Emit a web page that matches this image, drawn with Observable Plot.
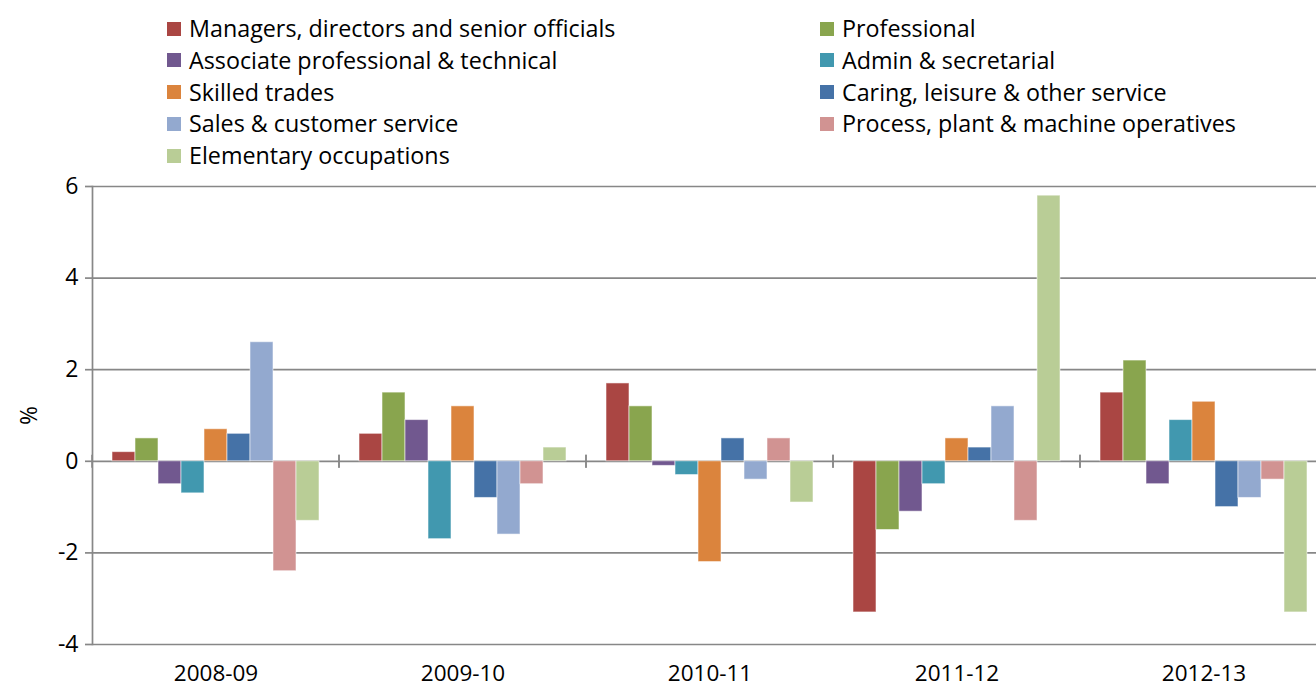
<!DOCTYPE html>
<html>
<head>
<meta charset="utf-8">
<script src="https://cdn.jsdelivr.net/npm/d3@7"></script>
<script src="https://cdn.jsdelivr.net/npm/@observablehq/plot@0.6"></script>
<style>
  html, body { margin: 0; padding: 0; background: #fff; overflow: hidden; }
  body { width: 1316px; height: 689px; font-family: "Open Sans", "Liberation Sans", sans-serif; }
  #legend { position: relative; height: 170px; width: 1316px; }
  .item { position: absolute; display: flex; align-items: center; font-size: 23.3px; color: #000; white-space: nowrap; line-height: 1; }
  .sw { width: 14px; height: 14px; margin-right: 8px; flex: none; }
  #chart svg { display: block; max-width: none !important; }
</style>
</head>
<body>
<div id="legend"></div>
<div id="chart"></div>
<script>
const years = ["2008-09", "2009-10", "2010-11", "2011-12", "2012-13"];
const seriesNames = [
  "Managers, directors and senior officials",
  "Professional",
  "Associate professional & technical",
  "Admin & secretarial",
  "Skilled trades",
  "Caring, leisure & other service",
  "Sales & customer service",
  "Process, plant & machine operatives",
  "Elementary occupations"
];
const seriesColors = ["#AA4643", "#89A54E", "#71588F", "#4198AF", "#DB843D", "#4572A7", "#93A9CF", "#D19392", "#B9CD96"];

const managers     = [0.2, 0.6, 1.7, -3.3, 1.5];
const professional = [0.5, 1.5, 1.2, -1.5, 2.2];
const associate    = [-0.5, 0.9, -0.1, -1.1, -0.5];
const admin        = [-0.7, -1.7, -0.3, -0.5, 0.9];
const skilled      = [0.7, 1.2, -2.2, 0.5, 1.3];
const caring       = [0.6, -0.8, 0.5, 0.3, -1.0];
const sales        = [2.6, -1.6, -0.4, 1.2, -0.8];
const process      = [-2.4, -0.5, 0.5, -1.3, -0.4];
const elementary   = [-1.3, 0.3, -0.9, 5.8, -3.3];
const yTicks = [-4, -2, 0, 2, 4, 6];

const seriesValues = [managers, professional, associate, admin, skilled, caring, sales, process, elementary];
const data = [];
years.forEach((yr, i) => seriesNames.forEach((s, j) => data.push({year: yr, series: s, value: seriesValues[j][i]})));

// legend (two columns, row-major)
const legend = document.getElementById("legend");
seriesNames.forEach((s, j) => {
  const col = j % 2, row = Math.floor(j / 2);
  const el = document.createElement("div");
  el.className = "item";
  el.style.left = (col === 0 ? 167 : 820) + "px";
  el.style.top = (28 + row * 31.8 - 11) + "px";
  el.innerHTML = `<span class="sw" style="background:${seriesColors[j]}"></span><span>${s}</span>`;
  legend.appendChild(el);
});

const gridColor = "#878787";

// small crossing ticks at category boundaries on the zero line
const boundaryTicks = (index, scales, values, dims) => {
  const g = d3.create("svg:g");
  const y0 = scales.y(0);
  const xl = dims.marginLeft, xr = dims.width - dims.marginRight;
  for (const x of [xl, xr]) {
    g.append("line").attr("x1", x).attr("x2", x).attr("y1", y0 - 6).attr("y2", y0 + 7)
      .attr("stroke", gridColor).attr("stroke-width", 1.5);
  }
  return g.node();
};

const chart = Plot.plot({
  width: 1330,
  height: 519,
  marginTop: 16,
  marginBottom: 45,
  marginLeft: 91,
  marginRight: 2,
  style: {fontFamily: "'Open Sans', 'Liberation Sans', sans-serif", color: "#000", background: "#fff"},
  fx: {domain: years, padding: 0, label: null},
  x: {domain: seriesNames, paddingInner: 0, paddingOuter: 0.755, axis: null},
  y: {domain: [-4, 6], label: null},
  color: {domain: seriesNames, range: seriesColors},
  marks: [
    Plot.ruleY(yTicks, {stroke: gridColor, strokeWidth: 1.7}),
    Plot.barY(data, {fx: "year", x: "series", y: "value", fill: "series", stroke: "#fff", strokeOpacity: 0.55, strokeWidth: 1, inset: 0}),
    boundaryTicks,
    Plot.frame({anchor: "left", facetAnchor: "left", stroke: gridColor, strokeWidth: 1.7}),
    Plot.axisY({ticks: yTicks, tickFormat: d => String(d), tickSize: 7, tickPadding: 7, fontSize: 23, stroke: gridColor, strokeWidth: 1.7,
      label: "%", labelAnchor: "center", labelOffset: 72, labelArrow: false}),
    Plot.axisFx({anchor: "bottom", tickSize: 0, tickPadding: 21, fontSize: 22.5, label: null})
  ]
});
document.getElementById("chart").appendChild(chart);
</script>
</body>
</html>
